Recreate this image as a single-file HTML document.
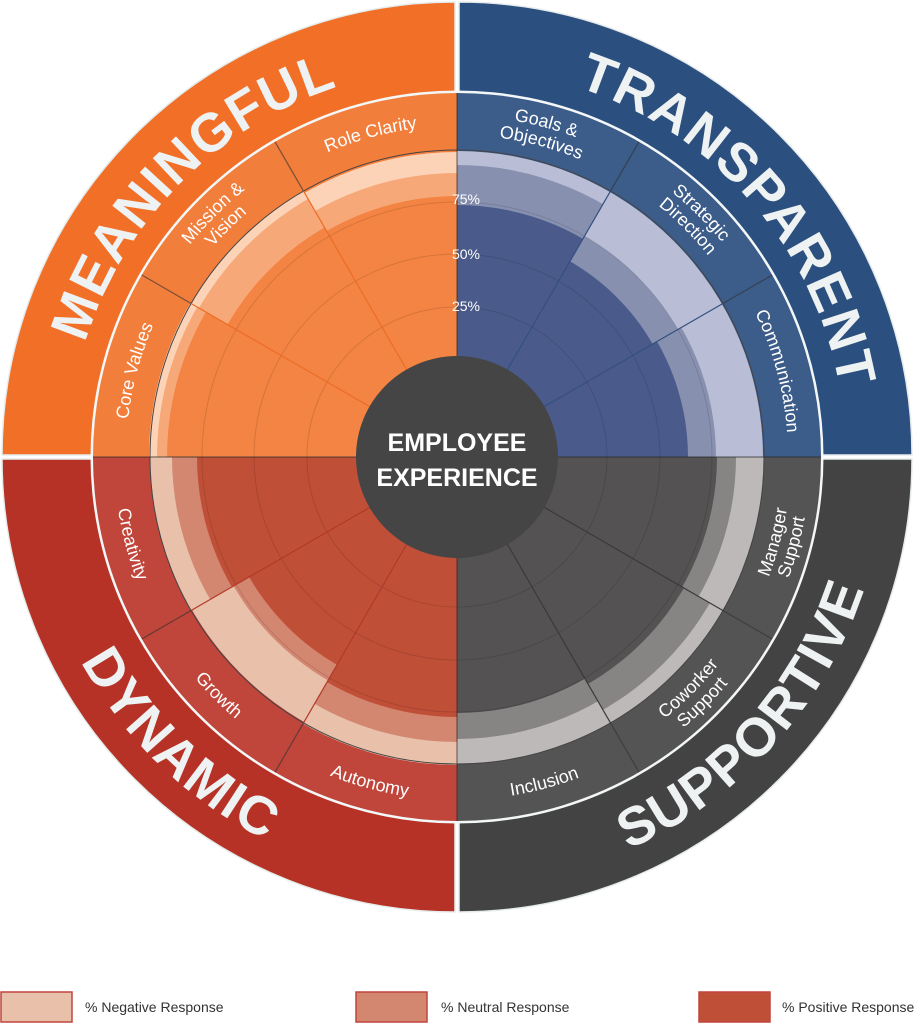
<!DOCTYPE html>
<html><head><meta charset="utf-8"><style>
html,body{margin:0;padding:0;background:#fff;}
svg{display:block;}
text{font-family:"Liberation Sans",sans-serif;}
</style></head><body>
<svg width="923" height="1024" viewBox="0 0 923 1024" xmlns="http://www.w3.org/2000/svg">
<defs>
<path id="cw389" d="M68,457 A389,389 0 1 1 846,457 A389,389 0 1 1 68,457"/>
<path id="cw331" d="M126,457 A331,331 0 1 1 788,457 A331,331 0 1 1 126,457"/>
<path id="cw341" d="M116,457 A341,341 0 1 1 798,457 A341,341 0 1 1 116,457"/>
<path id="cw322" d="M135,457 A322,322 0 1 1 779,457 A322,322 0 1 1 135,457"/>
<path id="ccw428" d="M29,457 A428,428 0 1 0 885,457 A428,428 0 1 0 29,457"/>
<path id="ccw343" d="M114,457 A343,343 0 1 0 800,457 A343,343 0 1 0 114,457"/>
<path id="ccw334" d="M123,457 A334,334 0 1 0 791,457 A334,334 0 1 0 123,457"/>
<path id="ccw353" d="M104,457 A353,353 0 1 0 810,457 A353,353 0 1 0 104,457"/>
<clipPath id="s0"><polygon points="457,457 1057,457 976.6,157"/></clipPath>
<clipPath id="s1"><polygon points="457,457 976.6,157 757,-62.6"/></clipPath>
<clipPath id="s2"><polygon points="457,457 757,-62.6 457,-143"/></clipPath>
<clipPath id="s3"><polygon points="457,457 457,-143 157,-62.6"/></clipPath>
<clipPath id="s4"><polygon points="457,457 157,-62.6 -62.6,157"/></clipPath>
<clipPath id="s5"><polygon points="457,457 -62.6,157 -143,457"/></clipPath>
<clipPath id="s6"><polygon points="457,457 -143,457 -62.6,757"/></clipPath>
<clipPath id="s7"><polygon points="457,457 -62.6,757 157,976.6"/></clipPath>
<clipPath id="s8"><polygon points="457,457 157,976.6 457,1057"/></clipPath>
<clipPath id="s9"><polygon points="457,457 457,1057 757,976.6"/></clipPath>
<clipPath id="s10"><polygon points="457,457 757,976.6 976.6,757"/></clipPath>
<clipPath id="s11"><polygon points="457,457 976.6,757 1057,457"/></clipPath>
</defs>

<path d="M455,455 L2,455 A453,453 0 0 1 455,2 Z" fill="#f26f27" stroke="#e6ecec" stroke-width="1.5"/>
<path d="M459,455 L459,2 A453,453 0 0 1 912,455 Z" fill="#2b4f7e" stroke="#e6ecec" stroke-width="1.5"/>
<path d="M459,459 L912,459 A453,453 0 0 1 459,912 Z" fill="#434343" stroke="#e6ecec" stroke-width="1.5"/>
<path d="M455,459 L455,912 A453,453 0 0 1 2,459 Z" fill="#b63226" stroke="#e6ecec" stroke-width="1.5"/>

<circle cx="457" cy="457" r="366.5" fill="#f4f7f7"/>

<g clip-path="url(#s0)"><circle cx="457" cy="457" r="364" fill="#3c5c8a"/><circle cx="457" cy="457" r="306" fill="#b9bed6"/><circle cx="457" cy="457" r="259" fill="#8890b0"/><circle cx="457" cy="457" r="231" fill="#4a5b8b"/></g>
<g clip-path="url(#s1)"><circle cx="457" cy="457" r="364" fill="#3c5c8a"/><circle cx="457" cy="457" r="306" fill="#b9bed6"/><circle cx="457" cy="457" r="255" fill="#8890b0"/><circle cx="457" cy="457" r="226" fill="#4a5b8b"/></g>
<g clip-path="url(#s2)"><circle cx="457" cy="457" r="364" fill="#3c5c8a"/><circle cx="457" cy="457" r="306" fill="#b9bed6"/><circle cx="457" cy="457" r="292" fill="#8890b0"/><circle cx="457" cy="457" r="252" fill="#4a5b8b"/></g>
<g clip-path="url(#s3)"><circle cx="457" cy="457" r="364" fill="#f27e3c"/><circle cx="457" cy="457" r="305" fill="#fcd3b7"/><circle cx="457" cy="457" r="284" fill="#f7a878"/><circle cx="457" cy="457" r="261" fill="#f38443"/></g>
<g clip-path="url(#s4)"><circle cx="457" cy="457" r="364" fill="#f27e3c"/><circle cx="457" cy="457" r="307" fill="#fcd3b7"/><circle cx="457" cy="457" r="298" fill="#f7a878"/><circle cx="457" cy="457" r="265" fill="#f38443"/></g>
<g clip-path="url(#s5)"><circle cx="457" cy="457" r="364" fill="#f27e3c"/><circle cx="457" cy="457" r="308" fill="#fcd3b7"/><circle cx="457" cy="457" r="300" fill="#f7a878"/><circle cx="457" cy="457" r="290" fill="#f38443"/></g>
<g clip-path="url(#s6)"><circle cx="457" cy="457" r="364" fill="#c0453b"/><circle cx="457" cy="457" r="307" fill="#e9c1ab"/><circle cx="457" cy="457" r="285" fill="#d38670"/><circle cx="457" cy="457" r="260" fill="#c04f38"/></g>
<g clip-path="url(#s7)"><circle cx="457" cy="457" r="364" fill="#c0453b"/><circle cx="457" cy="457" r="306" fill="#e9c1ab"/><circle cx="457" cy="457" r="258" fill="#d38670"/><circle cx="457" cy="457" r="240" fill="#c04f38"/></g>
<g clip-path="url(#s8)"><circle cx="457" cy="457" r="364" fill="#c0453b"/><circle cx="457" cy="457" r="308" fill="#e9c1ab"/><circle cx="457" cy="457" r="285" fill="#d38670"/><circle cx="457" cy="457" r="260" fill="#c04f38"/></g>
<g clip-path="url(#s9)"><circle cx="457" cy="457" r="364" fill="#545454"/><circle cx="457" cy="457" r="307" fill="#bdb9b9"/><circle cx="457" cy="457" r="282" fill="#878484"/><circle cx="457" cy="457" r="256" fill="#545253"/></g>
<g clip-path="url(#s10)"><circle cx="457" cy="457" r="364" fill="#545454"/><circle cx="457" cy="457" r="307" fill="#bdb9b9"/><circle cx="457" cy="457" r="292" fill="#878484"/><circle cx="457" cy="457" r="262" fill="#545253"/></g>
<g clip-path="url(#s11)"><circle cx="457" cy="457" r="364" fill="#545454"/><circle cx="457" cy="457" r="307" fill="#bdb9b9"/><circle cx="457" cy="457" r="279" fill="#878484"/><circle cx="457" cy="457" r="260" fill="#545253"/></g>

<g fill="none" stroke="rgba(0,0,0,0.12)" stroke-width="1">
<circle cx="457" cy="457" r="150"/><circle cx="457" cy="457" r="203"/><circle cx="457" cy="457" r="255"/>
</g>
<circle cx="457" cy="457" r="307" fill="none" stroke="#444" stroke-width="1"/>

<g stroke-width="1.2">
<line x1="457" y1="457" x2="722.9" y2="303.5" stroke="#34507e"/>
<line x1="457" y1="457" x2="610.5" y2="191.1" stroke="#34507e"/>
<line x1="457" y1="457" x2="303.5" y2="191.1" stroke="#ec6c26"/>
<line x1="457" y1="457" x2="191.1" y2="303.5" stroke="#ec6c26"/>
<line x1="457" y1="457" x2="191.1" y2="610.5" stroke="#b2392a"/>
<line x1="457" y1="457" x2="303.5" y2="722.9" stroke="#b2392a"/>
<line x1="457" y1="457" x2="610.5" y2="722.9" stroke="#3a3a3a"/>
<line x1="457" y1="457" x2="722.9" y2="610.5" stroke="#3a3a3a"/>
</g>
<g stroke="rgba(40,40,40,0.6)" stroke-width="1.2">
<line x1="722.9" y1="303.5" x2="772.2" y2="275"/>
<line x1="610.5" y1="191.1" x2="639" y2="141.8"/>
<line x1="303.5" y1="191.1" x2="275" y2="141.8"/>
<line x1="191.1" y1="303.5" x2="141.8" y2="275"/>
<line x1="191.1" y1="610.5" x2="141.8" y2="639"/>
<line x1="303.5" y1="722.9" x2="275" y2="772.2"/>
<line x1="610.5" y1="722.9" x2="639" y2="772.2"/>
<line x1="722.9" y1="610.5" x2="772.2" y2="639"/>
<line x1="457" y1="93" x2="457" y2="821"/>
<line x1="93" y1="457" x2="821" y2="457"/>
</g>

<g fill="#fff" font-size="14" text-anchor="middle">
<text x="466" y="204">75%</text>
<text x="466" y="259">50%</text>
<text x="466" y="311">25%</text>
</g>

<circle cx="457" cy="457" r="101" fill="#454545"/>
<g fill="#fff" font-size="25" font-weight="bold" text-anchor="middle">
<text x="457" y="451">EMPLOYEE</text>
<text x="457" y="486">EXPERIENCE</text>
</g>

<g fill="#eef2f2" font-size="54" font-weight="bold" text-anchor="middle" letter-spacing="1.5">
<text><textPath href="#cw389" startOffset="12.4%">MEANINGFUL</textPath></text>
<text><textPath href="#cw389" startOffset="38.6%">TRANSPARENT</textPath></text>
<text><textPath href="#ccw428" startOffset="12.8%">DYNAMIC</textPath></text>
<text><textPath href="#ccw428" startOffset="38.3%">SUPPORTIVE</textPath></text>
</g>

<g fill="#fff" font-size="18" text-anchor="middle">
<text><textPath href="#cw331" startOffset="20.83%">Role Clarity</textPath></text>
<text><textPath href="#cw341" startOffset="12.5%">Mission &amp;</textPath></text>
<text><textPath href="#cw322" startOffset="12.5%">Vision</textPath></text>
<text><textPath href="#cw331" startOffset="4.17%">Core Values</textPath></text>
<text><textPath href="#cw341" startOffset="29.17%">Goals &amp;</textPath></text>
<text><textPath href="#cw322" startOffset="29.17%">Objectives</textPath></text>
<text><textPath href="#cw341" startOffset="37.5%">Strategic</textPath></text>
<text><textPath href="#cw322" startOffset="37.5%">Direction</textPath></text>
<text><textPath href="#cw331" startOffset="45.83%">Communication</textPath></text>
<text><textPath href="#ccw343" startOffset="4.17%">Creativity</textPath></text>
<text><textPath href="#ccw343" startOffset="12.5%">Growth</textPath></text>
<text><textPath href="#ccw343" startOffset="20.83%">Autonomy</textPath></text>
<text><textPath href="#ccw343" startOffset="29.17%">Inclusion</textPath></text>
<text><textPath href="#ccw334" startOffset="37.5%">Coworker</textPath></text>
<text><textPath href="#ccw353" startOffset="37.5%">Support</textPath></text>
<text><textPath href="#ccw334" startOffset="45.83%">Manager</textPath></text>
<text><textPath href="#ccw353" startOffset="45.83%">Support</textPath></text>
</g>

<rect x="1" y="992" width="71" height="30" fill="#e9c1ab" stroke="#c0453b" stroke-width="1.5"/>
<rect x="356" y="992" width="71" height="30" fill="#d38670" stroke="#c0453b" stroke-width="1.5"/>
<rect x="699" y="992" width="71" height="30" fill="#c04f38" stroke="#c0453b" stroke-width="1.5"/>
<g fill="#333" font-size="14">
<text x="85" y="1012">% Negative Response</text>
<text x="441" y="1012">% Neutral Response</text>
<text x="782" y="1012">% Positive Response</text>
</g>
</svg>
</body></html>
